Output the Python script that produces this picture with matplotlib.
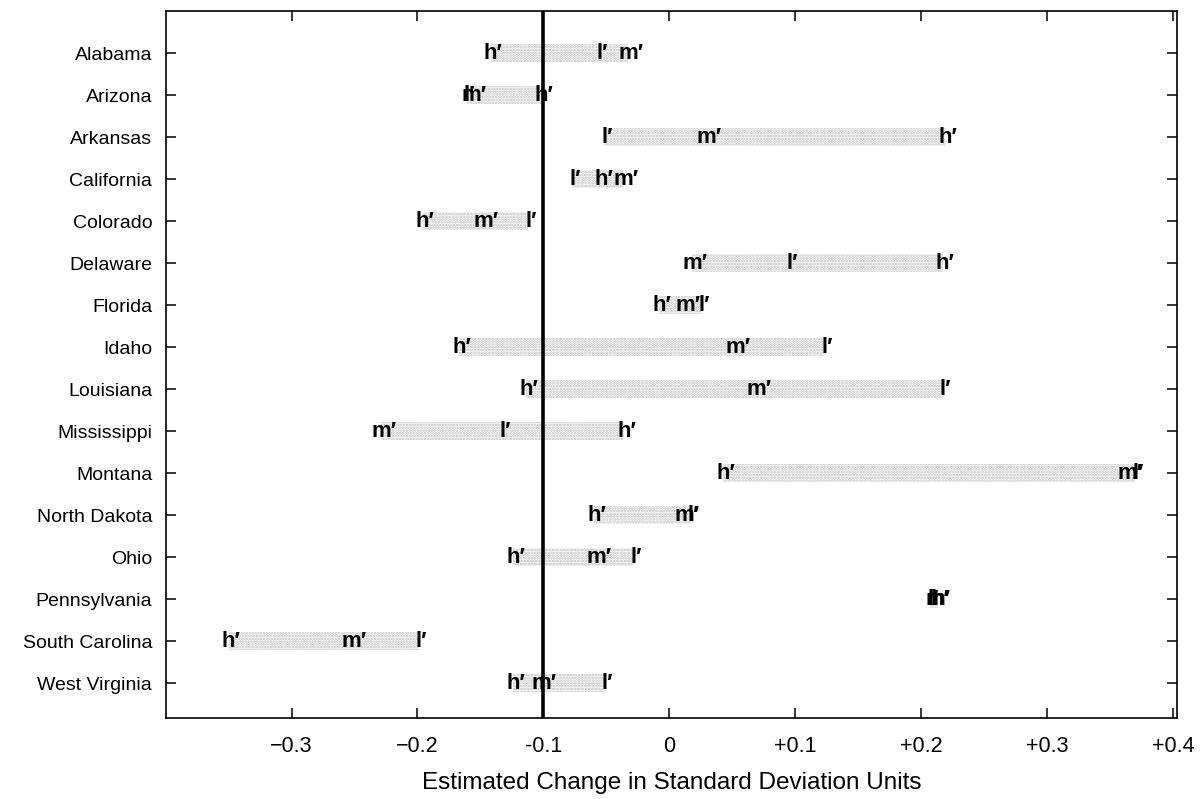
import matplotlib
matplotlib.use("Agg")
import matplotlib.pyplot as plt
import numpy as np

plt.rcParams.update({
    "font.family": ["Liberation Sans", "DejaVu Sans"],
    "axes.linewidth": 1.2,
    "hatch.linewidth": 1.3,
})

# ── données ─────────────────────────────────────────────
states = ["Alabama", "Arizona", "Arkansas", "California", "Colorado",
          "Delaware", "Florida", "Idaho", "Louisiana", "Mississippi",
          "Montana", "North Dakota", "Ohio", "Pennsylvania",
          "South Carolina", "West Virginia"]
h_vals = [-0.142, -0.102, 0.219, -0.054, -0.196, 0.217, -0.008, -0.167,
          -0.114, -0.036, 0.043, -0.060, -0.124, 0.213, -0.350, -0.124]
m_vals = [-0.033, -0.157, 0.029, -0.037, -0.148, 0.018, 0.013, 0.052,
          0.069, -0.229, 0.364, 0.012, -0.058, 0.211, -0.253, -0.102]
l_vals = [-0.056, -0.161, -0.052, -0.077, -0.112, 0.095, 0.025, 0.123,
          0.217, -0.133, 0.370, 0.017, -0.029, 0.207, -0.199, -0.052]
ref_line = -0.1
xticks = [-0.3, -0.2, -0.1, 0, 0.1, 0.2, 0.3, 0.4]
xtick_labels = ["\u22120.3", "\u22120.2", "-0.1", "0", "+0.1", "+0.2", "+0.3", "+0.4"]

fig = plt.figure(figsize=(12.04, 7.99), dpi=100)
ax = fig.add_axes([0.1379, 0.1014, 0.9776 - 0.1379, 0.9862 - 0.1014])

y = np.arange(1, len(states) + 1)
lo = np.minimum.reduce([h_vals, m_vals, l_vals])
hi = np.maximum.reduce([h_vals, m_vals, l_vals])

# bande grisée pointillée entre les estimations
ax.barh(y, hi - lo, left=lo, height=0.42, color="none",
        hatch="......", edgecolor="#c2c2c2", linewidth=0, zorder=1)

ax.axvline(ref_line, color="black", linewidth=2.6, zorder=3)

# lettres h', m', l'
half_w = {"h": 4.8, "m": 7.0, "l": 2.0}
for vals, c in [(l_vals, "l"), (m_vals, "m"), (h_vals, "h")]:
    for yi, v in zip(y, vals):
        ax.annotate(c + "\u2032", xy=(v, yi), xytext=(-half_w[c], 0),
                    textcoords="offset points", ha="left", va="center",
                    fontsize=16, fontweight="bold", color="black", zorder=4,
                    family=["Liberation Sans", "DejaVu Sans"])

ax.set_xlim(-0.3997, 0.4032)
ax.set_ylim(16.83, 0)
ax.set_yticks(y)
ax.set_yticklabels(states, fontsize=14)
ax.set_xticks(xticks)
ax.set_xticklabels(xtick_labels, fontsize=15.5)
ax.tick_params(axis="both", direction="in", length=7, width=1.1,
               top=True, right=True)
ax.tick_params(axis="y", pad=10)
ax.tick_params(axis="x", pad=13)
ax.set_xlabel("Estimated Change in Standard Deviation Units",
              fontsize=17.5, labelpad=11)

plt.savefig("out.png", dpi=100, facecolor="white")
